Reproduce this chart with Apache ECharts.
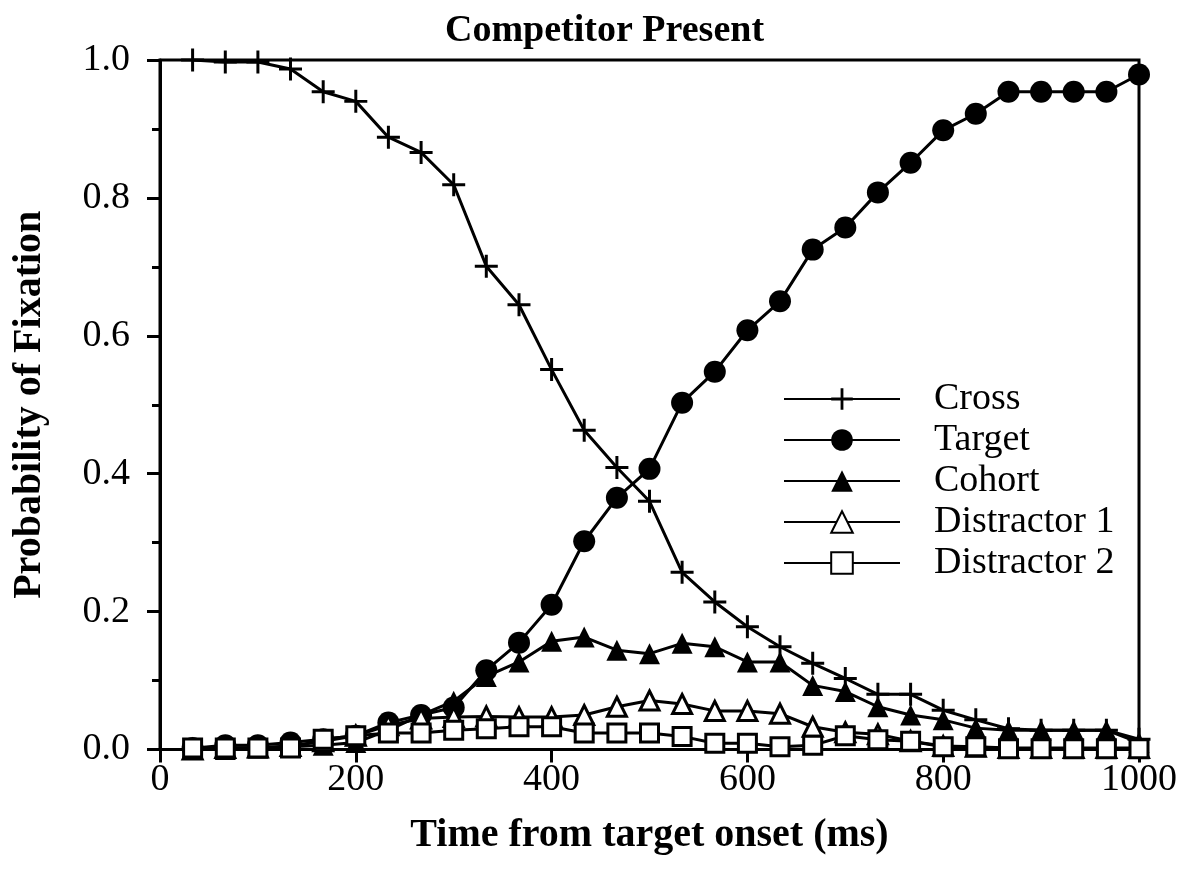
<!DOCTYPE html>
<html>
<head>
<meta charset="utf-8">
<script src="https://cdn.jsdelivr.net/npm/echarts@6/dist/echarts.min.js"></script>
<style>
html,body{margin:0;padding:0;background:#fff;}
#chart{width:1179px;height:879px;}
</style>
</head>
<body>
<div id="chart"></div>
<script>
// ---- data ----
const timesMs = [33.3, 66.7, 100, 133.3, 166.7, 200, 233.3, 266.7, 300, 333.3, 366.7, 400, 433.3, 466.7, 500,
                 533.3, 566.7, 600, 633.3, 666.7, 700, 733.3, 766.7, 800, 833.3, 866.7, 900, 933.3, 966.7, 1000];
const crossVals = [1.0, 0.997, 0.997, 0.987, 0.954, 0.940, 0.888, 0.866, 0.819, 0.701, 0.645, 0.551, 0.463, 0.409, 0.360,
                   0.257, 0.214, 0.178, 0.149, 0.125, 0.103, 0.080, 0.080, 0.057, 0.043, 0.030, 0.028, 0.028, 0.028, 0.015];
const targetVals = [0.002, 0.006, 0.006, 0.010, 0.015, 0.020, 0.039, 0.050, 0.061, 0.115, 0.155, 0.210, 0.302, 0.365, 0.407,
                    0.503, 0.548, 0.608, 0.650, 0.725, 0.757, 0.808, 0.851, 0.898, 0.922, 0.954, 0.954, 0.954, 0.954, 0.979];
const cohortVals = [0.000, 0.000, 0.002, 0.004, 0.006, 0.010, 0.028, 0.050, 0.070, 0.106, 0.127, 0.157, 0.163, 0.144, 0.139,
                    0.154, 0.149, 0.127, 0.127, 0.093, 0.084, 0.062, 0.050, 0.043, 0.031, 0.028, 0.028, 0.028, 0.028, 0.010];
const distractor1Vals = [0.000, 0.002, 0.003, 0.005, 0.012, 0.020, 0.035, 0.045, 0.047, 0.048, 0.047, 0.047, 0.050, 0.062, 0.071,
                         0.066, 0.056, 0.056, 0.052, 0.033, 0.025, 0.022, 0.012, 0.005, 0.004, 0.002, 0.002, 0.002, 0.002, 0.002];
const distractor2Vals = [0.002, 0.002, 0.002, 0.002, 0.015, 0.020, 0.024, 0.024, 0.028, 0.030, 0.033, 0.033, 0.024, 0.024, 0.024,
                         0.019, 0.009, 0.009, 0.004, 0.006, 0.020, 0.014, 0.012, 0.004, 0.004, 0.001, 0.001, 0.001, 0.001, 0.001];
const seriesNames = ['Cross', 'Target', 'Cohort', 'Distractor 1', 'Distractor 2'];
const xTicks = [0, 200, 400, 600, 800, 1000];
const yTicks = [0.0, 0.2, 0.4, 0.6, 0.8, 1.0];

const FONT = '"Liberation Serif", "Times New Roman", serif';
const crossPath = 'path://M43.5,0 H56.5 V43.5 H100 V56.5 H56.5 V100 H43.5 V56.5 H0 V43.5 H43.5 Z';

function pairs(vals) { return timesMs.map((t, i) => [t, vals[i]]); }

function mkSeries(name, vals, symbol, size, fill, border) {
  return {
    name: name,
    type: 'line',
    data: pairs(vals),
    symbol: symbol,
    symbolSize: size,
    symbolKeepAspect: true,
    showAllSymbol: true,
    lineStyle: { color: '#000', width: 3 },
    itemStyle: { color: fill, borderColor: '#000', borderWidth: border, opacity: 1 },
    emphasis: { disabled: true },
    animation: false
  };
}

const chart = echarts.init(document.getElementById('chart'), null, { renderer: 'canvas' });
chart.setOption({
  backgroundColor: '#fff',
  animation: false,
  title: {
    text: 'Competitor Present',
    left: 440, top: 7,
    textStyle: { fontFamily: FONT, fontSize: 38, fontWeight: 'bold', color: '#000' }
  },
  grid: {
    left: 160, right: 40, top: 60, bottom: 129.5,
    outerBoundsMode: 'none',
    containLabel: false,
    show: true, borderColor: '#000', borderWidth: 3, backgroundColor: 'transparent'
  },
  legend: {
    data: seriesNames,
    orient: 'vertical',
    left: 778, top: 375,
    itemWidth: 116, itemHeight: 27, itemGap: 3,
    selectedMode: false,
    textStyle: { fontFamily: FONT, fontSize: 38, color: '#000', lineHeight: 30, padding: [8, 0, 0, 29] }
  },
  xAxis: {
    type: 'value', min: xTicks[0], max: xTicks[xTicks.length - 1], interval: 200,
    name: 'Time from target onset (ms)', nameLocation: 'middle', nameGap: 66,
    nameTextStyle: { fontFamily: FONT, fontSize: 40, fontWeight: 'bold', color: '#000' },
    axisLine: { lineStyle: { color: '#000', width: 3 } },
    axisTick: { show: true, inside: false, length: 13, lineStyle: { color: '#000', width: 3 } },
    axisLabel: { fontFamily: FONT, fontSize: 38, color: '#000', margin: 12, formatter: v => String(v) },
    splitLine: { show: false }
  },
  yAxis: {
    type: 'value', min: yTicks[0], max: yTicks[yTicks.length - 1], interval: 0.2,
    name: 'Probability of Fixation', nameLocation: 'middle', nameGap: 110,
    nameTextStyle: { fontFamily: FONT, fontSize: 40, fontWeight: 'bold', color: '#000' },
    axisLine: { lineStyle: { color: '#000', width: 3 } },
    axisTick: { show: true, inside: false, length: 13, lineStyle: { color: '#000', width: 3 } },
    minorTick: { show: true, splitNumber: 2, length: 8, lineStyle: { color: '#000', width: 3 } },
    axisLabel: { fontFamily: FONT, fontSize: 38, color: '#000', margin: 30, formatter: v => v.toFixed(1) },
    splitLine: { show: false }
  },
  series: [
    mkSeries('Cross', crossVals, crossPath, 23, '#000', 0),
    mkSeries('Cohort', cohortVals, 'triangle', 21, '#000', 0),
    mkSeries('Target', targetVals, 'circle', 22, '#000', 0),
    mkSeries('Distractor 1', distractor1Vals, 'triangle', 19, '#fff', 3),
    mkSeries('Distractor 2', distractor2Vals, 'rect', 18, '#fff', 3)
  ]
});
</script>
</body>
</html>
